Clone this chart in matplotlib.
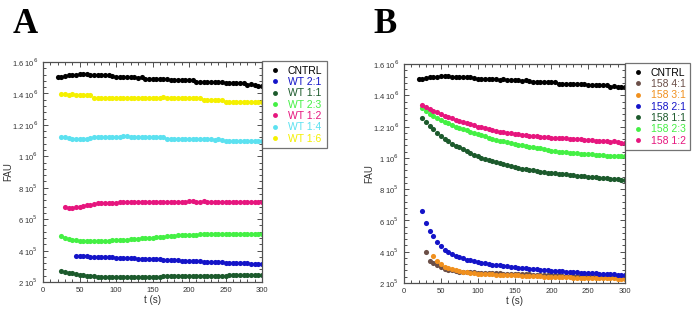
import numpy as np
import matplotlib
matplotlib.use("Agg")
import matplotlib.pyplot as plt
from matplotlib.ticker import MultipleLocator, AutoMinorLocator, FuncFormatter

plt.rcParams['font.family'] = ['Liberation Sans', 'DejaVu Sans']

### data (FAU in units of 1e5), sampled every 5 s
cntrl = [15.05, 15.05, 15.1, 15.15, 15.2, 15.15, 15.25, 15.25, 15.25, 15.15,
         15.15, 15.15, 15.15, 15.15, 15.15, 15.1, 15.05, 15.05, 15.05, 15.05,
         15.05, 15.05, 15.0, 15.05, 14.95, 14.95, 14.95, 14.95, 14.9, 14.95,
         14.9, 14.85, 14.85, 14.85, 14.85, 14.85, 14.85, 14.85, 14.75, 14.75,
         14.75, 14.75, 14.75, 14.75, 14.75, 14.7, 14.65, 14.65, 14.65, 14.65,
         14.65, 14.65, 14.55, 14.6, 14.55, 14.5, 14.5]          # t = 20..300

wt_2_1 = [3.66, 3.65, 3.64, 3.63, 3.62, 3.62, 3.6, 3.59, 3.58, 3.58,
          3.56, 3.55, 3.55, 3.53, 3.52, 3.52, 3.5, 3.49, 3.48, 3.48,
          3.46, 3.45, 3.44, 3.44, 3.42, 3.41, 3.4, 3.39, 3.37, 3.36,
          3.35, 3.34, 3.33, 3.32, 3.31, 3.3, 3.29, 3.28, 3.27, 3.26,
          3.25, 3.24, 3.23, 3.22, 3.21, 3.2, 3.19, 3.18, 3.17, 3.16,
          3.15, 3.14]                                               # t = 45..300
wt_1_1 = [2.72, 2.65, 2.6, 2.55, 2.5, 2.45, 2.42, 2.4, 2.38, 2.36,
          2.35, 2.34, 2.34, 2.34, 2.33, 2.33, 2.33, 2.32, 2.33, 2.33,
          2.33, 2.33, 2.33, 2.33, 2.33, 2.33, 2.35, 2.35, 2.36, 2.36,
          2.36, 2.36, 2.37, 2.37, 2.37, 2.37, 2.4, 2.4, 2.4, 2.4,
          2.4, 2.4, 2.41, 2.41, 2.41, 2.41, 2.44, 2.44, 2.44, 2.45,
          2.45, 2.45, 2.46, 2.46, 2.47, 2.47]                       # t = 25..300
wt_2_3 = [4.9, 4.78, 4.72, 4.67, 4.65, 4.63, 4.63, 4.63, 4.63, 4.63,
          4.63, 4.64, 4.63, 4.64, 4.65, 4.65, 4.67, 4.68, 4.7, 4.72,
          4.74, 4.76, 4.78, 4.8, 4.81, 4.83, 4.85, 4.87, 4.89, 4.9,
          4.92, 4.94, 4.96, 4.97, 4.99, 5.0, 5.01, 5.02, 5.03, 5.04,
          5.04, 5.04, 5.04, 5.04, 5.04, 5.04, 5.04, 5.04, 5.04, 5.04,
          5.04, 5.04, 5.04, 5.04, 5.04, 5.04]                       # t = 25..300
wt_1_2 = [6.75, 6.72, 6.7, 6.75, 6.8, 6.85, 6.9, 6.93, 6.97, 7.0,
          7.02, 7.03, 7.04, 7.05, 7.05, 7.07, 7.07, 7.07, 7.07, 7.07,
          7.07, 7.07, 7.07, 7.07, 7.1, 7.1, 7.1, 7.1, 7.1, 7.1,
          7.1, 7.1, 7.1, 7.1, 7.15, 7.15, 7.12, 7.12, 7.13, 7.1,
          7.1, 7.1, 7.1, 7.1, 7.1, 7.1, 7.1, 7.07, 7.07, 7.07,
          7.07, 7.07, 7.07, 7.07, 7.07]                             # t = 30..300
wt_1_4 = [11.25, 11.2, 11.15, 11.1, 11.1, 11.1, 11.1, 11.12, 11.18, 11.2,
          11.2, 11.2, 11.2, 11.2, 11.2, 11.22, 11.2, 11.28, 11.28, 11.25,
          11.2, 11.2, 11.2, 11.2, 11.2, 11.2, 11.2, 11.2, 11.2, 11.1,
          11.1, 11.1, 11.1, 11.1, 11.1, 11.1, 11.1, 11.1, 11.1, 11.1,
          11.1, 11.1, 11.05, 11.12, 11.05, 10.95, 10.95, 10.95, 10.95, 10.95,
          10.95, 10.95, 10.95, 10.95, 10.95, 10.95]                 # t = 25..300
wt_1_6 = [13.95, 13.95, 13.9, 13.97, 13.9, 13.92, 13.92, 13.92, 13.9, 13.72,
          13.72, 13.72, 13.72, 13.72, 13.72, 13.72, 13.72, 13.72, 13.72, 13.72,
          13.72, 13.72, 13.72, 13.72, 13.72, 13.72, 13.72, 13.72, 13.75, 13.72,
          13.72, 13.72, 13.72, 13.72, 13.72, 13.72, 13.72, 13.72, 13.72, 13.6,
          13.6, 13.6, 13.6, 13.6, 13.6, 13.45, 13.45, 13.45, 13.45, 13.45,
          13.45, 13.45, 13.45, 13.45, 13.45, 13.45]                 # t = 25..300

m158_4_1 = [3.96, 3.43, 3.3, 3.12, 3.0, 2.9, 2.84, 2.8, 2.76, 2.73,
            2.71, 2.7, 2.69, 2.68, 2.67, 2.66, 2.65, 2.64, 2.63, 2.62,
            2.61, 2.6, 2.6, 2.59, 2.58, 2.57, 2.56, 2.55, 2.55, 2.54,
            2.53, 2.52, 2.51, 2.5, 2.5, 2.49, 2.48, 2.47, 2.47, 2.46,
            2.45, 2.44, 2.44, 2.43, 2.42, 2.42, 2.41, 2.41, 2.4, 2.4,
            2.39, 2.39, 2.38, 2.38, 2.37]                           # t = 30..300
m158_3_1 = [3.75, 3.43, 3.22, 3.05, 2.95, 2.88, 2.82, 2.77, 2.73, 2.7,
            2.66, 2.63, 2.6, 2.58, 2.57, 2.56, 2.55, 2.54, 2.53, 2.52,
            2.51, 2.5, 2.49, 2.48, 2.47, 2.46, 2.45, 2.44, 2.43, 2.42,
            2.41, 2.4, 2.4, 2.39, 2.38, 2.37, 2.37, 2.36, 2.35, 2.34,
            2.34, 2.33, 2.33, 2.32, 2.31, 2.31, 2.3, 2.3, 2.29, 2.29,
            2.28, 2.28, 2.28]                                       # t = 40..300
m158_2_1 = [6.59, 5.85, 5.35, 4.99, 4.63, 4.35, 4.13, 3.96, 3.85, 3.75,
            3.65, 3.57, 3.5, 3.44, 3.38, 3.33, 3.29, 3.25, 3.21, 3.18,
            3.15, 3.12, 3.09, 3.06, 3.03, 3.0, 2.97, 2.95, 2.93, 2.91,
            2.89, 2.87, 2.85, 2.83, 2.81, 2.79, 2.77, 2.75, 2.74, 2.72,
            2.71, 2.69, 2.68, 2.67, 2.65, 2.64, 2.62, 2.61, 2.6, 2.58,
            2.57, 2.56, 2.55, 2.54, 2.53, 2.52]                     # t = 25..300
m158_1_1 = [12.54, 12.3, 12.05, 11.83, 11.62, 11.42, 11.22, 11.05, 10.9, 10.78,
            10.68, 10.55, 10.45, 10.3, 10.2, 10.1, 10.0, 9.92, 9.85, 9.78,
            9.72, 9.66, 9.6, 9.52, 9.46, 9.4, 9.35, 9.3, 9.26, 9.22,
            9.2, 9.15, 9.12, 9.08, 9.05, 9.02, 9.0, 8.98, 8.96, 8.95,
            8.92, 8.9, 8.87, 8.85, 8.82, 8.8, 8.78, 8.76, 8.74, 8.72,
            8.7, 8.68, 8.65, 8.62, 8.6, 8.58]                       # t = 25..300
m158_2_3 = [13.18, 12.98, 12.8, 12.65, 12.52, 12.4, 12.3, 12.2, 12.1, 12.0,
            11.92, 11.83, 11.75, 11.68, 11.62, 11.55, 11.48, 11.4, 11.3, 11.22,
            11.15, 11.1, 11.05, 11.0, 10.95, 10.9, 10.85, 10.8, 10.75, 10.72,
            10.7, 10.65, 10.6, 10.55, 10.5, 10.45, 10.42, 10.4, 10.37, 10.35,
            10.32, 10.3, 10.28, 10.27, 10.25, 10.25, 10.22, 10.2, 10.2, 10.18,
            10.15, 10.15, 10.13, 10.12, 10.12, 10.12]               # t = 25..300
m158_1_2 = [13.37, 13.25, 13.12, 13.0, 12.9, 12.8, 12.7, 12.62, 12.53, 12.45,
            12.37, 12.28, 12.2, 12.14, 12.07, 12.0, 11.95, 11.88, 11.82, 11.77,
            11.72, 11.68, 11.64, 11.6, 11.58, 11.55, 11.5, 11.47, 11.45, 11.42,
            11.38, 11.37, 11.35, 11.33, 11.32, 11.3, 11.3, 11.27, 11.25, 11.24,
            11.23, 11.2, 11.2, 11.18, 11.15, 11.15, 11.12, 11.1, 11.09, 11.08,
            11.05, 11.03, 11.05, 11.0, 10.98, 10.98]                # t = 25..300

### (label, start time, values, colour)
series_A = [('CNTRL', 20, cntrl, 'black'),
            ('WT 2:1', 45, wt_2_1, '#1414c8'),
            ('WT 1:1', 25, wt_1_1, '#1c5a2c'),
            ('WT 2:3', 25, wt_2_3, '#44f044'),
            ('WT 1:2', 30, wt_1_2, '#e6167e'),
            ('WT 1:4', 25, wt_1_4, '#5ce1f0'),
            ('WT 1:6', 25, wt_1_6, '#f5f000')]
series_B = [('CNTRL', 20, cntrl, 'black'),
            ('158 4:1', 30, m158_4_1, '#6b4f48'),
            ('158 3:1', 40, m158_3_1, '#f0901e'),
            ('158 2:1', 25, m158_2_1, '#1414c8'),
            ('158 1:1', 25, m158_1_1, '#1c5a2c'),
            ('158 2:3', 25, m158_2_3, '#44f044'),
            ('158 1:2', 25, m158_1_2, '#e6167e')]

W, H = 699, 316
fig = plt.figure(figsize=(W/100., H/100.), dpi=100)

def sci_fmt(v, pos):
    if v <= 0:
        return ''
    e = int(np.floor(np.log10(v) + 1e-9))
    m = v / 10**e
    return '%g 10$^{%d}$' % (round(m, 3), e)

def draw_panel(box, series, letter, letter_x):
    l, t, r, b = box
    ax = fig.add_axes([l/W, 1-b/H, (r-l)/W, (b-t)/H])
    for name, t0, vals, col in series:
        tt = np.arange(t0, t0 + 5*len(vals), 5)
        ax.plot(tt, np.array(vals)*1e5, 'o', ms=3.7, mec='none', color=col, label=name)
    ax.set_xlim(0, 300)
    ax.set_ylim(2e5, 1.6e6)
    ax.xaxis.set_major_locator(MultipleLocator(50))
    ax.xaxis.set_minor_locator(AutoMinorLocator(5))
    ax.yaxis.set_major_locator(MultipleLocator(2e5))
    ax.yaxis.set_minor_locator(AutoMinorLocator(5))
    ax.yaxis.set_major_formatter(FuncFormatter(sci_fmt))
    ax.tick_params(which='both', direction='in', top=True, right=True,
                   labelsize=5.5, colors='#333333', width=0.6)
    ax.tick_params(which='major', length=3.5)
    ax.tick_params(which='minor', length=2)
    for s in ax.spines.values():
        s.set_color('#505050')
        s.set_linewidth(0.9)
    ax.set_xlabel('t (s)', fontsize=7, color='#333333', labelpad=1)
    ax.set_ylabel('FAU', fontsize=7, color='#333333')
    ax.yaxis.set_label_coords(-0.135, 0.5)
    leg = ax.legend(loc='upper left', bbox_to_anchor=(1.0, 1.005), borderaxespad=0,
                    fontsize=7.5, frameon=True, fancybox=False, handlelength=1.5,
                    handletextpad=0.5, labelspacing=0.13, borderpad=0.45,
                    markerscale=0.95)
    leg.get_frame().set_edgecolor('#505050')
    leg.get_frame().set_linewidth(0.9)
    for txt, (name, t0, vals, col) in zip(leg.get_texts(), series):
        txt.set_color(col)
    fig.text(letter_x/W, 1-33/H, letter, fontsize=25, fontweight='bold',
             family='Liberation Serif', va='baseline')
    return ax

draw_panel((43, 62, 262, 282), series_A, 'A', 13)
draw_panel((404, 64, 625, 283), series_B, 'B', 373)

plt.savefig('out.png', dpi=100)
